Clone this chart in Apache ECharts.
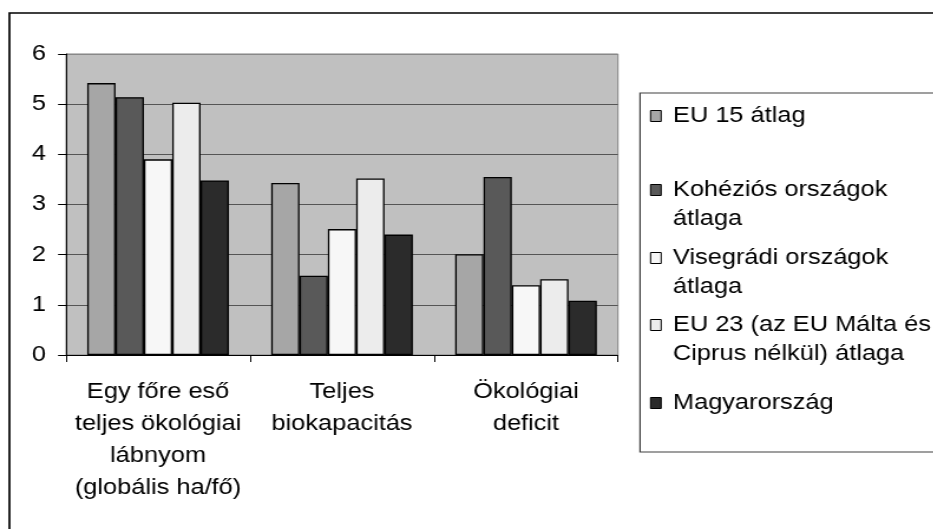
<!DOCTYPE html>
<html>
<head>
<meta charset="utf-8">
<script src="https://cdn.jsdelivr.net/npm/echarts@6/dist/echarts.min.js"></script>
<style>
html,body{margin:0;padding:0;background:#fff;overflow:hidden;width:933px;height:529px;}
#chart{width:791px;height:529px;transform:scaleX(1.18);transform-origin:0 0;}
</style>
</head>
<body>
<div id="chart"></div>
<script>
const categories = ['Egy főre eső\nteljes ökológiai\nlábnyom\n(globális ha/fő)', 'Teljes\nbiokapacitás', 'Ökológiai\ndeficit'];
const seriesNames = ['EU 15 átlag', 'Kohéziós országok\nátlaga', 'Visegrádi országok\nátlaga', 'EU 23 (az EU Málta és\nCiprus nélkül) átlaga', 'Magyarország'];
const eu15 = [5.42, 3.43, 2.01];
const kohezios = [5.14, 1.58, 3.55];
const visegradi = [3.90, 2.51, 1.39];
const eu23 = [5.03, 3.52, 1.51];
const magyarorszag = [3.48, 2.40, 1.08];
const yTicks = [0, 1, 2, 3, 4, 5, 6];

const seriesData = [eu15, kohezios, visegradi, eu23, magyarorszag];
const colors = ['#a6a6a6', '#595959', '#f7f7f7', '#ececec', '#2b2b2b'];
const FONT = "'Liberation Sans', Arial, sans-serif";
const FS = 21.5;
const LH = 29;
const legendTops = [101.5, 146.5, 214.5, 281.5, 388.5];

const chart = echarts.init(document.getElementById('chart'), null, {renderer: 'canvas'});

const legends = seriesNames.map((n, i) => {
  const multi = n.indexOf('\n') >= 0;
  return {
    data: [n],
    left: 550.8,
    top: legendTops[i],
    padding: 0,
    orient: 'vertical',
    icon: 'rect',
    itemWidth: 9,
    itemHeight: 11,
    selectedMode: false,
    itemStyle: {borderColor: '#000', borderWidth: 1},
    formatter: function (name) {
      const lines = name.split('\n').map(s => '{a|' + s + '}');
      if (multi) lines.unshift('{a| }');
      return lines.join('\n');
    },
    textStyle: {
      fontFamily: FONT, fontSize: FS, color: '#000', lineHeight: LH,
      rich: {a: {fontFamily: FONT, fontSize: FS, color: '#000', lineHeight: LH, padding: [0, 0, 0, 5]}}
    }
  };
});

chart.setOption({
  animation: false,
  backgroundColor: '#fff',
  color: colors,
  textStyle: {fontFamily: FONT},
  graphic: [
    {type: 'rect', silent: true, z: -1,
     shape: {x: 8, y: 13, width: 1000, height: 1000},
     style: {fill: 'none', stroke: '#000', lineWidth: 1.7}},
    {type: 'rect', silent: true, z: -1,
     shape: {x: 542.4, y: 93, width: 400, height: 359},
     style: {fill: '#fff', stroke: '#404040', lineWidth: 1.2}}
  ],
  legend: legends,
  grid: {
    left: 56, right: 267.3, top: 54, bottom: 174,
    show: true, backgroundColor: '#c0c0c0', borderColor: '#808080', borderWidth: 1,
    containLabel: false
  },
  xAxis: {
    type: 'category',
    data: categories,
    axisLine: {show: true, lineStyle: {color: '#000', width: 1}},
    axisTick: {show: true, length: 7, lineStyle: {color: '#000'}},
    axisLabel: {
      interval: 0, margin: 21, fontFamily: FONT, fontSize: FS, color: '#000',
      lineHeight: 32, align: 'center'
    },
    splitLine: {show: false}
  },
  yAxis: {
    type: 'value',
    min: yTicks[0], max: yTicks[yTicks.length - 1], interval: 1,
    axisLine: {show: true, lineStyle: {color: '#000', width: 1}},
    axisTick: {show: true, length: 6.8, lineStyle: {color: '#000'}},
    axisLabel: {margin: 17, fontFamily: FONT, fontSize: FS, color: '#000'},
    splitLine: {show: true, lineStyle: {color: ['#555', '#555', '#555', '#555', '#555', '#555', '#888'], width: 1}}
  },
  series: seriesNames.map((n, i) => ({
    name: n,
    type: 'bar',
    data: seriesData[i],
    barGap: '0%',
    barCategoryGap: '23%',
    itemStyle: {color: colors[i], borderColor: '#000', borderWidth: 1.3},
    emphasis: {disabled: true}
  }))
});
</script>
</body>
</html>
